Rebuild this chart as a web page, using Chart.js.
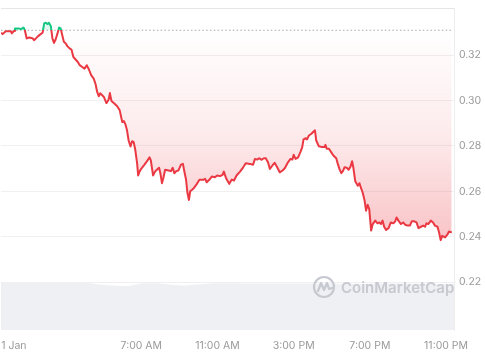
<!DOCTYPE html>
<html><head><meta charset="utf-8">
<script src="https://cdn.jsdelivr.net/npm/chart.js@4.4.1/dist/chart.umd.min.js"></script>
<style>html,body{margin:0;padding:0;background:#fff;}canvas{display:block;}</style>
</head><body>
<canvas id="c" width="485" height="360"></canvas>
<script>
// time in minutes after midnight (1 Jan)
const minutes = [-22,-17,-12,-7,3,9,12,19,22,28,34,40,49,53,59,67,77,82,88,95,103,109,114,119,124,129,135,140,145,150,156,161,166,171,176,182,187,194,200,206,213,220,226,234,241,248,255,262,270,276,281,286,291,302,310,317,321,326,335,344,352,360,365,370,375,380,386,391,396,401,407,410,415,422,430,438,446,450,457,464,469,476,480,485,490,495,506,513,519,524,530,537,545,551,555,561,565,570,574,579,586,595,603,615,621,626,634,642,652,659,668,676,680,687,697,705,712,720,731,741,749,762,772,778,785,791,799,806,812,819,825,833,840,848,856,865,872,882,890,896,900,906,914,921,927,931,938,942,948,956,963,967,971,979,990,997,1000,1004,1011,1018,1025,1034,1039,1044,1050,1055,1060,1067,1073,1079,1084,1088,1094,1102,1107,1112,1117,1123,1128,1133,1138,1144,1149,1157,1164,1170,1175,1180,1185,1191,1199,1206,1214,1220,1224,1230,1238,1245,1251,1259,1266,1272,1280,1287,1293,1301,1308,1314,1318,1324,1332,1339,1345,1353,1358,1363,1368,1377,1384,1389,1398];
const prices = [0.3299,0.3293,0.3299,0.3306,0.3306,0.3306,0.3296,0.3307,0.3318,0.3318,0.3318,0.3315,0.3322,0.3311,0.3274,0.3278,0.3275,0.3266,0.3274,0.3284,0.3293,0.3299,0.3340,0.3343,0.3337,0.3343,0.3328,0.3274,0.3254,0.3269,0.3296,0.3322,0.3318,0.3288,0.3259,0.3252,0.3240,0.3230,0.3225,0.3192,0.3181,0.3170,0.3156,0.3148,0.3141,0.3156,0.3137,0.3112,0.3097,0.3072,0.3038,0.3019,0.3032,0.3016,0.2989,0.3004,0.3033,0.2998,0.2987,0.2975,0.2957,0.2905,0.2910,0.2895,0.2869,0.2824,0.2798,0.2821,0.2817,0.2783,0.2721,0.2670,0.2689,0.2704,0.2718,0.2733,0.2750,0.2736,0.2670,0.2689,0.2695,0.2704,0.2680,0.2636,0.2662,0.2695,0.2692,0.2689,0.2704,0.2680,0.2689,0.2692,0.2718,0.2721,0.2692,0.2651,0.2596,0.2562,0.2600,0.2606,0.2615,0.2633,0.2651,0.2651,0.2655,0.2640,0.2651,0.2665,0.2662,0.2670,0.2667,0.2673,0.2687,0.2658,0.2633,0.2652,0.2648,0.2670,0.2687,0.2706,0.2724,0.2721,0.2717,0.2743,0.2740,0.2746,0.2739,0.2746,0.2746,0.2728,0.2699,0.2714,0.2726,0.2706,0.2684,0.2692,0.2702,0.2728,0.2743,0.2740,0.2761,0.2743,0.2750,0.2773,0.2795,0.2829,0.2834,0.2829,0.2846,0.2854,0.2864,0.2869,0.2824,0.2799,0.2795,0.2795,0.2805,0.2788,0.2788,0.2773,0.2758,0.2746,0.2721,0.2699,0.2680,0.2689,0.2706,0.2704,0.2695,0.2709,0.2733,0.2704,0.2644,0.2625,0.2636,0.2615,0.2596,0.2562,0.2515,0.2541,0.2522,0.2427,0.2456,0.2471,0.2459,0.2463,0.2456,0.2471,0.2444,0.2430,0.2438,0.2463,0.2459,0.2468,0.2485,0.2471,0.2456,0.2463,0.2453,0.2449,0.2449,0.2468,0.2468,0.2463,0.2438,0.2444,0.2449,0.2444,0.2459,0.2456,0.2471,0.2463,0.2449,0.2444,0.2419,0.2385,0.2404,0.2397,0.2409,0.2423,0.2419];
const openPrice = 0.3310;
const tickMinutes = [0, 420, 660, 900, 1140, 1380];
const tickLabels = ['\u00a0\u00a0\u00a0\u00a01 Jan', '7:00 AM', '11:00 AM', '3:00 PM', '7:00 PM', '11:00 PM'];
const priceTicks = [0.22, 0.24, 0.26, 0.28, 0.30, 0.32];
const volMinutes = [-22, 72, 166, 260, 291, 339, 386, 417, 480, 527, 558, 596, 637, 731, 856, 982, 1107, 1233, 1327, 1405];
const volumes = [9.40, 9.40, 9.38, 9.35, 9.05, 8.85, 8.85, 9.30, 9.32, 9.00, 8.90, 9.10, 9.30, 9.32, 9.28, 9.30, 9.25, 9.28, 9.22, 9.20];

const X_MIN = -22, X_MAX = 1405, Y_MIN = 0.1989, Y_MAX = 0.3408, VOL_AXIS_MAX = 64.4;
const RED = '#ea3943', GREEN = '#16c784';
const FONT = 'Inter, "Noto Sans", sans-serif';

const priceData = minutes.map((m, i) => ({x: m, y: prices[i]}));
const volData = volMinutes.map((m, i) => ({x: m, y: volumes[i]}));
const baseData = [{x: minutes[0], y: openPrice}, {x: minutes[minutes.length - 1], y: openPrice}];

const watermark = {
  id: 'wm',
  afterDatasetsDraw(chart) {
    const c = chart.ctx, a = chart.chartArea;
    const cx = a.right - 130, cy = a.bottom - 43;
    c.save();
    c.strokeStyle = '#c6c9cf'; c.fillStyle = '#c6c9cf';
    c.lineWidth = 2.2; c.lineJoin = 'round'; c.lineCap = 'round';
    c.beginPath(); c.arc(cx, cy, 10, 0, Math.PI * 2); c.stroke();
    c.beginPath();
    c.moveTo(cx - 6, cy + 4); c.lineTo(cx - 3, cy - 4); c.lineTo(cx, cy + 3);
    c.lineTo(cx + 3, cy - 4); c.lineTo(cx + 5, cy + 2); c.lineTo(cx + 8, cy + 1);
    c.stroke();
    c.font = '600 15px ' + FONT;
    c.textBaseline = 'middle'; c.textAlign = 'left';
    c.fillText('CoinMarketCap', cx + 17, cy + 1);
    c.restore();
  }
};

const chart = new Chart(document.getElementById('c'), {
  type: 'line',
  data: {
    datasets: [
      {
        data: priceData, order: 0, borderWidth: 2, pointRadius: 0, tension: 0,
        borderColor: RED, borderJoinStyle: 'round',
        fill: {target: {value: openPrice}, above: 'rgba(22,199,132,0.12)', below: 'rgba(234,57,67,0.12)'}
      },
      {
        data: baseData, order: 1, borderWidth: 1, pointRadius: 0, borderColor: '#a9a9a9',
        borderDash: [1.5, 2.3], fill: false
      },
      {
        data: volData, order: 2, yAxisID: 'yv', borderWidth: 0, pointRadius: 0, tension: 0.3,
        borderColor: 'rgba(0,0,0,0)', backgroundColor: '#eff0f3', fill: 'origin'
      }
    ]
  },
  options: {
    responsive: false, animation: false, devicePixelRatio: 1,
    layout: {padding: {top: 8, left: 0, right: 0, bottom: 0}},
    plugins: {legend: {display: false}, tooltip: {enabled: false}},
    scales: {
      x: {
        type: 'linear', min: X_MIN, max: X_MAX,
        grid: {display: false, drawTicks: false}, border: {display: false},
        afterBuildTicks: s => { s.ticks = tickMinutes.map(v => ({value: v})); },
        ticks: {
          autoSkip: false, maxRotation: 0, padding: 10, color: '#9a9a9a',
          font: {family: FONT, size: 10.5},
          callback: (v) => tickLabels[tickMinutes.indexOf(v)]
        },
        afterFit: s => { s.height = 30; s.paddingLeft = 0; s.paddingRight = 0; }
      },
      y: {
        position: 'right', min: Y_MIN, max: Y_MAX,
        afterBuildTicks: s => { s.ticks = priceTicks.concat([Y_MAX]).map(v => ({value: v})); },
        grid: {drawTicks: false, color: c => (c.tick && c.tick.value === Y_MAX) ? '#e6e6e6' : '#f0f0f2', lineWidth: 1},
        border: {display: true, color: '#ededed'},
        ticks: {
          padding: 5, color: '#9a9a9a', font: {family: FONT, size: 10.5},
          callback: v => v === Y_MAX ? '' : v.toFixed(2)
        },
        afterFit: s => { s.width = 31; s.paddingTop = 0; s.paddingBottom = 0; }
      },
      yv: {display: false, min: 0, max: VOL_AXIS_MAX}
    }
  },
  plugins: [watermark]
});

// gradients built from the laid-out scales
const a = chart.chartArea, ys = chart.scales.y, ctx2 = chart.ctx;
const yOpen = ys.getPixelForValue(openPrice);
const yLow = ys.getPixelForValue(Math.min(...prices));
const line = ctx2.createLinearGradient(0, a.top, 0, a.bottom);
const f = (yOpen - a.top) / (a.bottom - a.top);
line.addColorStop(0, GREEN); line.addColorStop(f, GREEN);
line.addColorStop(f, RED); line.addColorStop(1, RED);
const below = ctx2.createLinearGradient(0, yOpen, 0, yLow);
below.addColorStop(0, 'rgba(234,57,67,0.0)');
below.addColorStop(0.5, 'rgba(234,57,67,0.10)');
below.addColorStop(1, 'rgba(234,57,67,0.30)');
chart.data.datasets[0].borderColor = line;
chart.data.datasets[0].fill = {target: {value: openPrice}, above: 'rgba(22,199,132,0.12)', below: below};
chart.update('none');
</script>
</body></html>
